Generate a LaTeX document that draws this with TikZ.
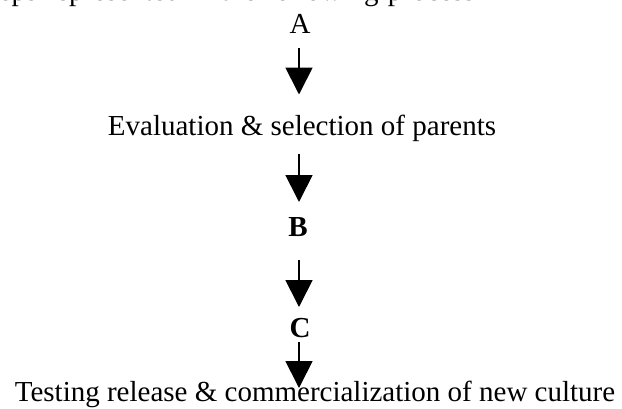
\documentclass[tikz,border=0pt]{standalone}
\usepackage{fontspec}
\setmainfont{Liberation Serif}
\usetikzlibrary{arrows.meta}
\begin{document}
\begin{tikzpicture}[x=1pt,y=-1pt,
  lbl/.style={inner sep=0pt,outer sep=0pt,anchor=base,font=\fontsize{29pt}{34pt}\selectfont},
  arr/.style={line width=1.8pt,-{Triangle[length=27pt,width=27pt]}}]
\useasboundingbox (0,0) rectangle (622,408);
\clip (0,0) rectangle (622,408);
\fill[white] (0,0) rectangle (622,408);
\node[lbl,anchor=base west] (top) at (-20.7,0.5) {\spaceskip=9.25pt\relax steps represented in the following process};
\node[lbl] (A) at (300,33) {A};
\node[lbl] (ev) at (302,135.5) {Evaluation \& selection of parents};
\node[lbl] (B) at (298,236) {\textbf{B}};
\node[lbl] (C) at (300,337) {\textbf{C}};
\node[lbl] (test) at (315,401) {Testing release \& commercialization of new culture};
\draw[arr,shorten <=15pt,shorten >=41pt] ([xshift=-1pt]A.base) -- ([xshift=-1pt]A.base |- ev.base);
\draw[arr,shorten <=18pt,shorten >=34pt] ([xshift=-1pt]A.base |- ev.base) -- ([xshift=-1pt]A.base |- B.base);
\draw[arr,shorten <=24pt,shorten >=30pt] ([xshift=-1pt]A.base |- B.base) -- ([xshift=-1pt]A.base |- C.base);
\draw[arr,shorten <=5pt,shorten >=13pt] ([xshift=-1pt]A.base |- C.base) -- ([xshift=-1pt]A.base |- test.base);
\end{tikzpicture}
\end{document}
